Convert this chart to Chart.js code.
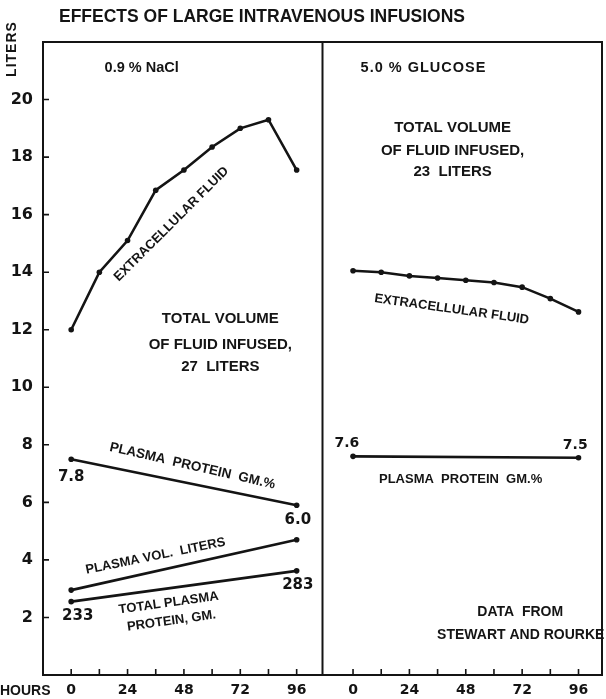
<!DOCTYPE html>
<html>
<head>
<meta charset="utf-8">
<style>
  html, body { margin: 0; padding: 0; background: #fff; }
  #wrap { width: 606px; height: 699px; }
</style>
<script src="https://cdn.jsdelivr.net/npm/chart.js@4.4.1/dist/chart.umd.min.js"></script>
</head>
<body>
<div id="wrap"><canvas id="myChart" width="606" height="699"></canvas></div>
<script>
// hours after start of infusion (same for both panels)
var hours = [0, 12, 24, 36, 48, 60, 72, 84, 96];
var endHours = [0, 96];
var hourLabels = [0, 24, 48, 72, 96];
var literTicks = [2, 4, 6, 8, 10, 12, 14, 16, 18, 20];

// 0.9 % NaCl panel
var naclExtracellular = [12.0, 14.0, 15.1, 16.85, 17.55, 18.35, 19.0, 19.3, 17.55];
var naclPlasmaProtein = [7.5, 5.9];
var naclPlasmaVol = [2.95, 4.7];
var naclTotalProtein = [2.55, 3.62];

// 5.0 % glucose panel
var glucoseExtracellular = [14.05, 14.0, 13.87, 13.8, 13.72, 13.64, 13.48, 13.08, 12.62];
var glucosePlasmaProtein = [7.6, 7.55];

// the right panel sits on the same x scale, shifted
var panelShift = 120;
var panelDivider = 107;

var FONT = "'Liberation Sans', Arial, sans-serif";
var NUMFONT = "'DejaVu Sans', sans-serif";
var INK = '#141414';

function pts(xs, ys, shift) {
    return xs.map(function (x, i) { return { x: x + shift, y: ys[i] }; });
}

function series(data) {
    return {
        data: data,
        borderColor: INK,
        backgroundColor: INK,
        borderWidth: 2.6,
        pointRadius: 2.8,
        pointBorderWidth: 0,
        tension: 0,
        clip: false
    };
}

// lettering placed in chart units (hours, liters)
var notes = [
    { text: '0.9 % NaCl', h: 30, v: 21.1, size: 14.5 },
    { text: '5.0 % GLUCOSE', h: 30 + panelShift, v: 21.1, size: 14.5, spacing: 1 },
    { text: 'EXTRACELLULAR FLUID', h: 42.7, v: 15.67, size: 13, angle: -45 },
    { text: 'TOTAL VOLUME', h: 63.5, v: 12.37, size: 15 },
    { text: 'OF FLUID INFUSED,', h: 63.5, v: 11.46, size: 15 },
    { text: '27  LITERS', h: 63.5, v: 10.7, size: 15 },
    { text: 'PLASMA  PROTEIN  GM.%', h: 51.6, v: 7.26, size: 13.5, angle: 13 },
    { text: '7.8', h: 0, v: 6.88, size: 15, num: true },
    { text: '6.0', h: 96.5, v: 5.38, size: 15, num: true },
    { text: 'PLASMA VOL.  LITERS', h: 35.9, v: 4.13, size: 13, angle: -11.5 },
    { text: '233', h: 2.8, v: 2.05, size: 15, num: true },
    { text: '283', h: 96.5, v: 3.13, size: 15, num: true },
    { text: 'TOTAL PLASMA', h: 41.5, v: 2.5, size: 13, angle: -8 },
    { text: 'PROTEIN, GM.', h: 42.7, v: 1.88, size: 13, angle: -8 },
    { text: 'TOTAL VOLUME', h: 42.4 + panelShift, v: 19.03, size: 15 },
    { text: 'OF FLUID INFUSED,', h: 42.4 + panelShift, v: 18.2, size: 15 },
    { text: '23  LITERS', h: 42.4 + panelShift, v: 17.47, size: 15 },
    { text: 'EXTRACELLULAR FLUID', h: 42 + panelShift, v: 12.71, size: 13, angle: 8 },
    { text: '7.6', h: -2.6 + panelShift, v: 8.06, size: 14, num: true },
    { text: '7.5', h: 94.6 + panelShift, v: 7.99, size: 14, num: true },
    { text: 'PLASMA  PROTEIN  GM.%', h: 45.8 + panelShift, v: 6.81, size: 13 },
    { text: 'DATA  FROM', h: 71.2 + panelShift, v: 2.19, size: 14 },
    { text: 'STEWART AND ROURKE', h: 71.4 + panelShift, v: 1.39, size: 14 }
];

var minorHours = [];
hours.forEach(function (h) { minorHours.push(h); });
hours.forEach(function (h) { minorHours.push(h + panelShift); });

var decorations = {
    id: 'decorations',
    afterDraw: function (chart) {
        var ctx = chart.ctx;
        var a = chart.chartArea;
        var xs = chart.scales.x, ys = chart.scales.y;
        ctx.save();
        ctx.strokeStyle = INK;
        ctx.fillStyle = INK;
        ctx.lineWidth = 2;

        // frame: top, right, divider between panels
        ctx.beginPath();
        ctx.moveTo(a.left - 1, a.top);
        ctx.lineTo(a.right, a.top);
        ctx.lineTo(a.right, a.bottom);
        var dx = xs.getPixelForValue(panelDivider);
        ctx.moveTo(dx, a.top);
        ctx.lineTo(dx, a.bottom);
        ctx.stroke();

        // inward tick marks
        ctx.lineWidth = 1.6;
        ctx.beginPath();
        literTicks.forEach(function (v) {
            var y = ys.getPixelForValue(v);
            ctx.moveTo(a.left, y);
            ctx.lineTo(a.left + 6, y);
        });
        minorHours.forEach(function (h) {
            var x = xs.getPixelForValue(h);
            ctx.moveTo(x, a.bottom);
            ctx.lineTo(x, a.bottom - 6);
        });
        ctx.stroke();

        // title
        ctx.textAlign = 'center';
        ctx.textBaseline = 'middle';
        ctx.font = 'bold 17.5px ' + FONT;
        ctx.fillText('EFFECTS OF LARGE INTRAVENOUS INFUSIONS', 262, 17);

        // y title
        ctx.save();
        ctx.translate(12, 49);
        ctx.rotate(-Math.PI / 2);
        ctx.font = 'bold 14px ' + FONT;
        ctx.letterSpacing = '1px';
        ctx.fillText('LITERS', 0, 0);
        ctx.restore();

        // x title
        ctx.textAlign = 'left';
        ctx.font = 'bold 14px ' + FONT;
        ctx.fillText('HOURS', 0, 691);

        // lettering on the panels
        ctx.textAlign = 'center';
        notes.forEach(function (n) {
            var x = xs.getPixelForValue(n.h);
            var y = ys.getPixelForValue(n.v);
            ctx.save();
            ctx.translate(x, y);
            if (n.angle) ctx.rotate(n.angle * Math.PI / 180);
            ctx.font = 'bold ' + n.size + 'px ' + (n.num ? NUMFONT : FONT);
            ctx.letterSpacing = (n.spacing || 0) + 'px';
            ctx.fillText(n.text, 0, 0);
            ctx.restore();
        });
        ctx.restore();
    }
};

var ctx = document.getElementById('myChart').getContext('2d');
var chart = new Chart(ctx, {
    type: 'line',
    data: {
        datasets: [
            series(pts(hours, naclExtracellular, 0)),
            series(pts(endHours, naclPlasmaProtein, 0)),
            series(pts(endHours, naclPlasmaVol, 0)),
            series(pts(endHours, naclTotalProtein, 0)),
            series(pts(hours, glucoseExtracellular, panelShift)),
            series(pts(endHours, glucosePlasmaProtein, panelShift))
        ]
    },
    options: {
        responsive: false,
        animation: false,
        devicePixelRatio: 1,
        layout: { padding: { top: 42, right: 2, left: 0, bottom: 0 } },
        plugins: {
            legend: { display: false },
            tooltip: { enabled: false }
        },
        scales: {
            x: {
                type: 'linear',
                min: -12,
                max: 226,
                afterFit: function (s) { s.height = 24; },
                afterBuildTicks: function (s) {
                    s.ticks = hourLabels.map(function (h) { return { value: h }; })
                        .concat(hourLabels.map(function (h) { return { value: h + panelShift }; }));
                },
                ticks: {
                    autoSkip: false,
                    maxRotation: 0,
                    padding: 7,
                    color: INK,
                    font: { family: NUMFONT, size: 14, weight: 'bold' },
                    callback: function (v) { return v >= panelShift ? String(v - panelShift) : String(v); }
                },
                grid: { display: false, drawTicks: false },
                border: { color: INK, width: 2 }
            },
            y: {
                min: 0,
                max: 22,
                afterFit: function (s) { s.width = 43; },
                afterBuildTicks: function (s) {
                    s.ticks = literTicks.map(function (v) { return { value: v }; });
                },
                ticks: {
                    padding: 10,
                    color: INK,
                    font: { family: NUMFONT, size: 16, weight: 'bold' }
                },
                grid: { display: false, drawTicks: false },
                border: { color: INK, width: 2 }
            }
        }
    },
    plugins: [decorations]
});
</script>
</body>
</html>
